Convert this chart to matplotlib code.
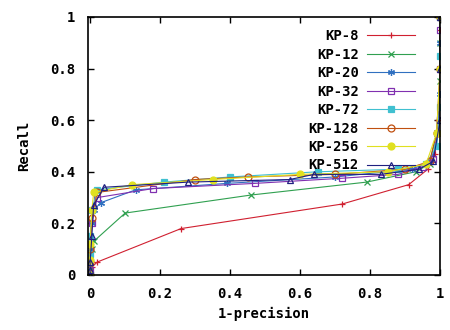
import numpy as np
import matplotlib
matplotlib.use('Agg')
import matplotlib.pyplot as plt

plt.rcParams['font.family'] = 'DejaVu Sans Mono'
plt.rcParams['font.weight'] = 'bold'
plt.rcParams['font.size'] = 10

# data: x = 1-precision, y = recall
labels = ['KP-8', 'KP-12', 'KP-20', 'KP-32', 'KP-72', 'KP-128', 'KP-256', 'KP-512']

x_kp8 = [0, 0, 0, 0.005, 0.02, 0.26, 0.72, 0.91, 0.965, 0.985, 0.995, 1, 1, 1]
y_kp8 = [0, 0.01, 0.02, 0.03, 0.05, 0.18, 0.275, 0.35, 0.41, 0.47, 0.6, 0.8, 0.95, 1]
x_kp12 = [0, 0, 0, 0.005, 0.01, 0.10, 0.46, 0.79, 0.93, 0.97, 0.99, 1, 1, 1]
y_kp12 = [0, 0.03, 0.06, 0.1, 0.13, 0.24, 0.31, 0.36, 0.40, 0.43, 0.55, 0.75, 0.9, 1]
x_kp20 = [0, 0, 0, 0.005, 0.01, 0.03, 0.13, 0.39, 0.7, 0.92, 0.97, 0.99, 1, 1, 1]
y_kp20 = [0, 0.05, 0.1, 0.2, 0.25, 0.28, 0.33, 0.355, 0.38, 0.41, 0.44, 0.5, 0.7, 0.9, 1]
x_kp32 = [0, 0, 0, 0.005, 0.02, 0.18, 0.47, 0.72, 0.88, 0.95, 0.98, 1, 1, 1, 1]
y_kp32 = [0, 0.02, 0.1, 0.2, 0.30, 0.335, 0.355, 0.375, 0.39, 0.42, 0.45, 0.6, 0.8, 0.95, 1]
x_kp72 = [0, 0, 0, 0.005, 0.02, 0.21, 0.4, 0.65, 0.88, 0.96, 0.99, 1, 1, 1]
y_kp72 = [0, 0.08, 0.15, 0.25, 0.33, 0.36, 0.38, 0.40, 0.41, 0.43, 0.5, 0.65, 0.85, 1]
x_kp128 = [0, 0, 0, 0.005, 0.02, 0.30, 0.45, 0.7, 0.9, 0.97, 0.99, 1, 1]
y_kp128 = [0, 0.05, 0.1, 0.22, 0.32, 0.37, 0.38, 0.39, 0.41, 0.44, 0.55, 0.8, 1]
x_kp256 = [0, 0, 0, 0.005, 0.01, 0.12, 0.35, 0.6, 0.85, 0.96, 0.99, 1, 1]
y_kp256 = [0, 0.06, 0.12, 0.25, 0.32, 0.35, 0.37, 0.39, 0.40, 0.43, 0.55, 0.8, 1]
x_kp512 = [0, 0, 0, 0.005, 0.01, 0.04, 0.28, 0.57, 0.64, 0.83, 0.94, 0.98, 1, 1, 1]
y_kp512 = [0, 0.02, 0.05, 0.15, 0.27, 0.34, 0.36, 0.37, 0.39, 0.39, 0.41, 0.44, 0.6, 0.8, 1]

xs = [x_kp8, x_kp12, x_kp20, x_kp32, x_kp72, x_kp128, x_kp256, x_kp512]
ys = [y_kp8, y_kp12, y_kp20, y_kp32, y_kp72, y_kp128, y_kp256, y_kp512]

colors = ['#d02030', '#30a050', '#3070c0', '#8030b0', '#40c0d0', '#c05010', '#e0e020', '#202080']
markers = ['+', 'x', (6, 2, 0), 's', 's', 'o', 'o', '^']
filled = [True, True, True, False, True, False, True, False]

fig = plt.figure(figsize=(4.5, 3.3), dpi=100)
ax = fig.add_axes([0.1956, 0.1667, 0.7824, 0.7818])

for i in range(len(labels)):
    mfc = colors[i] if filled[i] else 'none'
    ax.plot(xs[i], ys[i], color=colors[i], lw=0.8, marker=markers[i],
            markersize=5, mfc=mfc, mec=colors[i], mew=0.9, label=labels[i])

ax.set_xlim(-0.006, 1)
ax.set_ylim(0, 1)
ax.set_xticks([0, 0.2, 0.4, 0.6, 0.8, 1])
ax.set_xticklabels(['0', '0.2', '0.4', '0.6', '0.8', '1'])
ax.set_yticks([0, 0.2, 0.4, 0.6, 0.8, 1])
ax.set_yticklabels(['0', '0.2', '0.4', '0.6', '0.8', '1'])
ax.tick_params(direction='in', top=True, right=True, length=4, width=1, pad=9)
for s in ax.spines.values():
    s.set_linewidth(1.2)

ax.set_xlabel('1-precision', fontweight='bold', labelpad=4)
ax.set_ylabel('Recall', fontweight='bold', labelpad=14)

ax.legend(loc='upper right', markerfirst=False, frameon=False,
          handlelength=3.4, handletextpad=0.6, labelspacing=0.32,
          borderaxespad=0.3, bbox_to_anchor=(0.955, 0.99))

fig.savefig('out.png', dpi=100)
